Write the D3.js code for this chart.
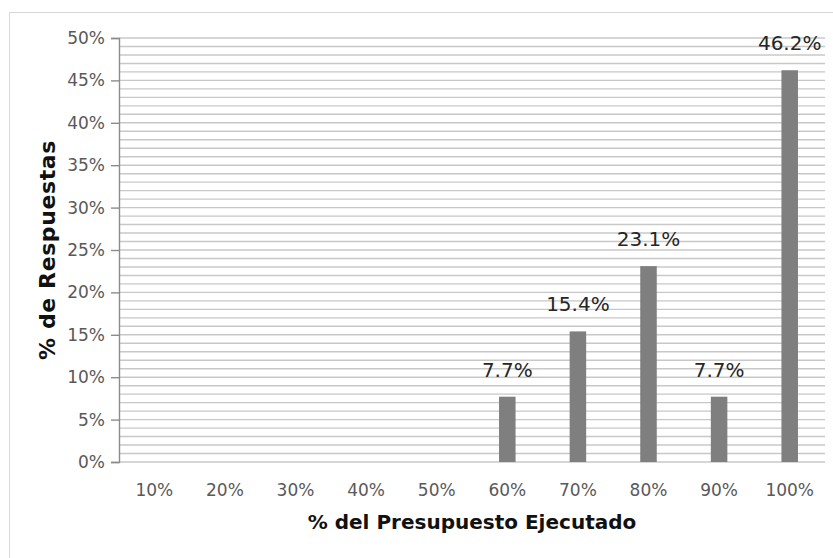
<!DOCTYPE html>
<html>
<head>
<meta charset="utf-8">
<script src="https://cdn.jsdelivr.net/npm/d3@7"></script>
<style>
  body { margin: 0; background: #fff; }
  svg text { font-family: "DejaVu Sans", sans-serif; }
</style>
</head>
<body>
<div id="chart"></div>
<script>
// categories on the x axis
const categories = ["10%", "20%", "30%", "40%", "50%", "60%", "70%", "80%", "90%", "100%"];
// % of answers per category
const values = [0, 0, 0, 0, 0, 7.7, 15.4, 23.1, 7.7, 46.2];
const yTicks = [0, 5, 10, 15, 20, 25, 30, 35, 40, 45, 50];

const W = 833, H = 558;
const margin = {top: 38, right: 8, bottom: 96, left: 119};
const width = W - margin.left - margin.right;
const height = H - margin.top - margin.bottom;

const svg = d3.select("#chart").append("svg")
  .attr("width", W)
  .attr("height", H);

// outer chart border
svg.append("rect")
  .attr("x", 9.5).attr("y", 12.5)
  .attr("width", W).attr("height", H)
  .attr("fill", "none")
  .attr("stroke", "#d9d9d9");

const g = svg.append("g")
  .attr("transform", `translate(${margin.left},${margin.top})`);

const x = d3.scaleBand()
  .domain(categories)
  .range([0, width])
  .padding(0);

const y = d3.scaleLinear()
  .domain([0, 50])
  .range([height, 0]);

// minor gridlines every 1%
g.append("g")
  .selectAll("line")
  .data(d3.range(0, 51, 1))
  .join("line")
    .attr("x1", 0)
    .attr("x2", width)
    .attr("y1", d => y(d))
    .attr("y2", d => y(d))
    .attr("stroke", "#c8c8c8")
    .attr("stroke-width", 1.4);

// y axis
const yAxis = g.append("g")
  .call(d3.axisLeft(y).tickValues(yTicks).tickFormat(d => d + "%").tickSize(8).tickPadding(6));
yAxis.select(".domain").attr("stroke", "#8c8c8c").attr("stroke-width", 1.4);
yAxis.selectAll(".tick line").attr("stroke", "#8c8c8c").attr("stroke-width", 1.4);
yAxis.selectAll("text")
  .attr("fill", "#595959")
  .attr("font-size", 17)
  .attr("font-family", "DejaVu Sans");

// x axis (labels only)
const xAxis = g.append("g")
  .attr("transform", `translate(0,${height})`)
  .call(d3.axisBottom(x).tickSize(0).tickPadding(22));
xAxis.select(".domain").remove();
xAxis.selectAll("text")
  .attr("fill", "#595959")
  .attr("font-size", 17)
  .attr("font-family", "DejaVu Sans");

// bars
const barW = x.bandwidth() * 0.234;
const shown = values.map((v, i) => ({cat: categories[i], v})).filter(d => d.v > 0);

g.append("g")
  .selectAll("rect")
  .data(shown)
  .join("rect")
    .attr("x", d => x(d.cat) + x.bandwidth() / 2 - barW / 2)
    .attr("y", d => y(d.v))
    .attr("width", barW)
    .attr("height", d => height - y(d.v))
    .attr("fill", "#7f7f7f");

// value labels
g.append("g")
  .selectAll("text")
  .data(shown)
  .join("text")
    .attr("x", d => x(d.cat) + x.bandwidth() / 2)
    .attr("y", d => y(d.v) - 20)
    .attr("text-anchor", "middle")
    .attr("font-size", 20)
    .attr("fill", "#262626")
    .text(d => d.v.toFixed(1) + "%");

// axis titles
svg.append("text")
  .attr("x", margin.left + width / 2)
  .attr("y", 529)
  .attr("text-anchor", "middle")
  .attr("font-size", 20)
  .attr("font-weight", "bold")
  .attr("fill", "#111")
  .text("% del Presupuesto Ejecutado");

svg.append("text")
  .attr("transform", `translate(55,${margin.top + height / 2}) rotate(-90)`)
  .attr("text-anchor", "middle")
  .attr("font-size", 22)
  .attr("font-weight", "bold")
  .attr("letter-spacing", 0.6)
  .attr("fill", "#111")
  .text("% de Respuestas");
</script>
</body>
</html>
